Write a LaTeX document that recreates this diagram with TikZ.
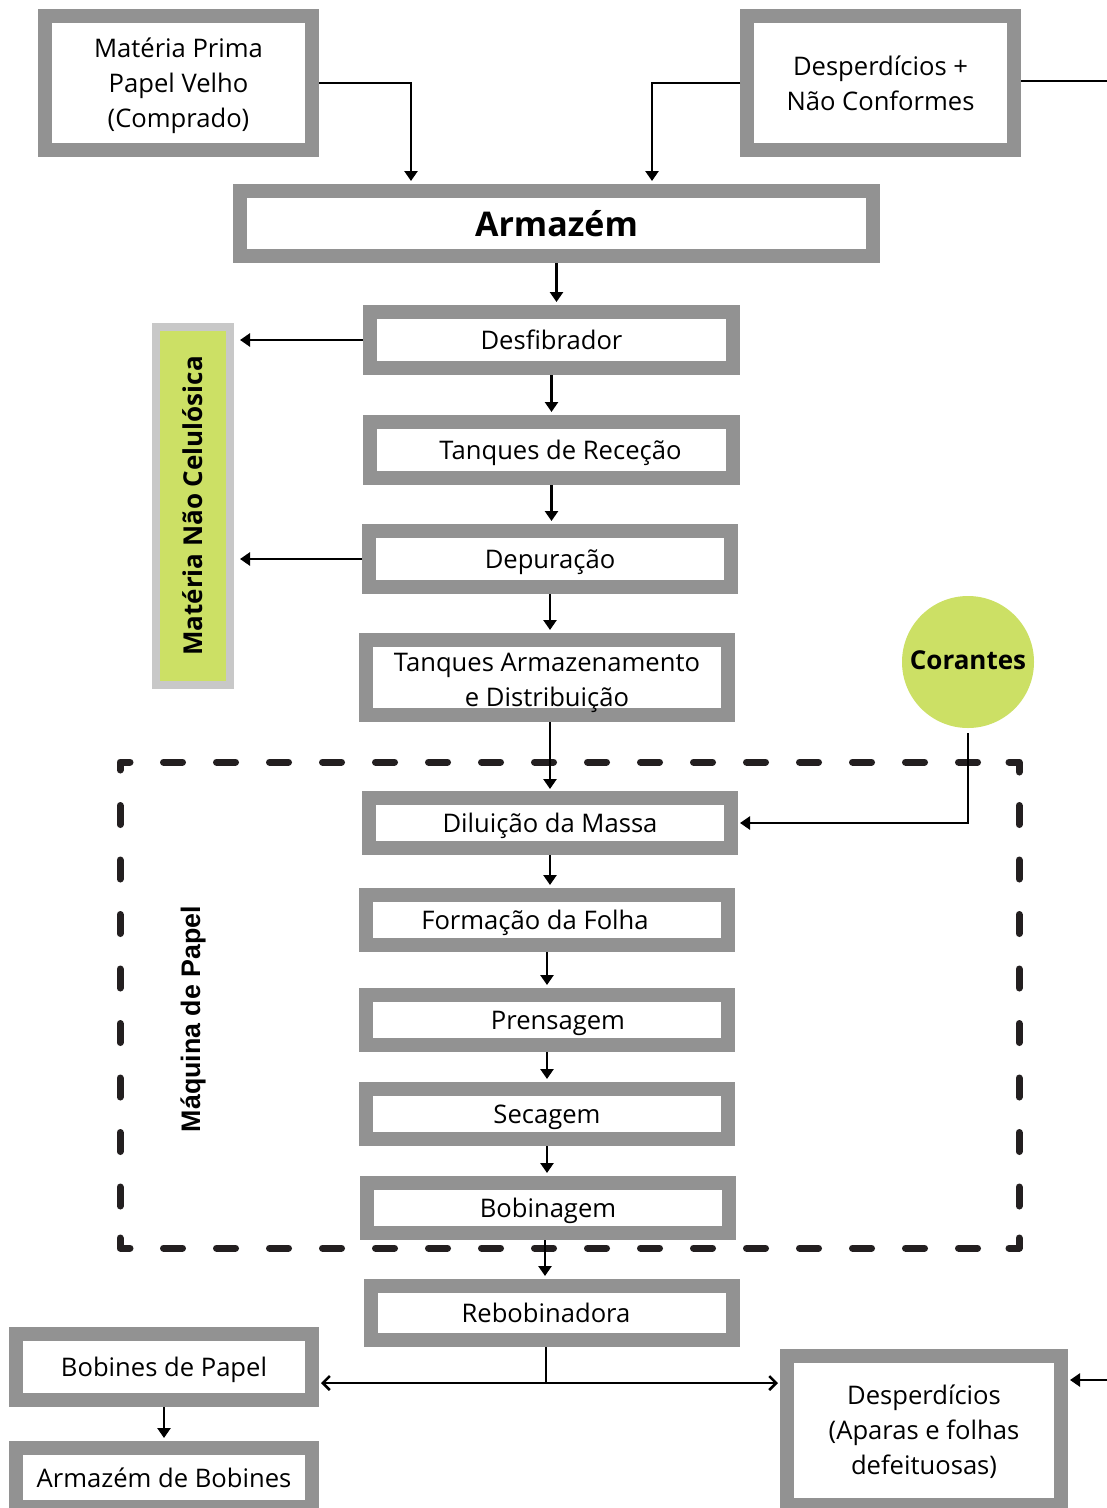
\documentclass[tikz,border=0pt]{standalone}
\usepackage{fontspec}
\usepackage{graphicx}
\setmainfont{Open Sans}
\newfontfamily\headsans{Liberation Sans}
\usetikzlibrary{arrows.meta,calc}

\definecolor{framegray}{RGB}{146,146,146}
\definecolor{softgray}{RGB}{200,200,200}
\definecolor{lime}{RGB}{204,224,101}
\definecolor{inkdark}{RGB}{35,31,32}

\begin{document}
\begin{tikzpicture}[x=1pt,y=-1pt,
  stagebox/.style={draw=framegray, line width=14pt, fill=white, rectangle,
    inner sep=0pt, align=center, font=\fontsize{25.6}{35}\selectfont},
  oneline/.style={text height=21.5pt, text depth=2pt},
  flow/.style={line width=2.5pt, -{Triangle[width=13pt,length=10pt]}, shorten >=3pt},
  splitflow/.style={line width=2.5pt, -{Straight Barb[width=14pt,length=7pt]}, shorten >=2pt},
  plain/.style={line width=2.5pt},
  framedash/.style={line width=7pt, draw=inkdark, line cap=round, line join=round}
]
\useasboundingbox (0,0) rectangle (1107,1508);
\fill[white] (0,0) rectangle (1107,1508);

% dashed frame of the paper machine
\foreach \i in {0,...,15} {
  \draw[framedash] ({163.5+\i*53},762) -- ++(19,0);
  \draw[framedash] ({163.5+\i*53},1248) -- ++(19,0);
}
\foreach \i in {0,...,7} {
  \draw[framedash] (120,{805.5+\i*54.5}) -- ++(0,19);
  \draw[framedash] (1019,{805.5+\i*54.5}) -- ++(0,19);
}
\draw[framedash] (120,770) -- (120,762) -- (130,762);
\draw[framedash] (1009,762) -- (1019,762) -- (1019,772);
\draw[framedash] (120,1238) -- (120,1248) -- (130,1248);
\draw[framedash] (1009,1248) -- (1019,1248) -- (1019,1238);

% inputs
\node[stagebox, minimum width=267pt, minimum height=134pt] (mp) at (178.5,83)
  {\rule{0pt}{25.5pt}Matéria Prima\\Papel Velho\\(Comprado)};
\node[stagebox, minimum width=267pt, minimum height=134pt] (dnc) at (880.5,83)
  {Desperdícios +\\Não Conformes};

% main line
\node[stagebox, minimum width=633pt, minimum height=65pt,
  font=\bfseries\fontsize{34}{40}\selectfont] (arm) at (556.5,223.5) {Armazém};
\node[stagebox, oneline, minimum width=363pt, minimum height=56pt] (desf) at (551.5,340) {Desfibrador};
\node[stagebox, oneline, minimum width=363pt, minimum height=56pt] (tr) at (551.5,450) {\hspace*{18pt}Tanques de Receção};
\node[stagebox, oneline, minimum width=362pt, minimum height=56pt] (dep) at (550,559) {Depuração};
\node[stagebox, minimum width=362pt, minimum height=75pt] (tad) at (547,677.5)
  {\rule{0pt}{29.5pt}Tanques Armazenamento\\e Distribuição};
\node[stagebox, oneline, minimum width=362pt, minimum height=50pt] (dil) at (550,823) {Diluição da Massa};
\node[stagebox, oneline, minimum width=362pt, minimum height=50pt] (ff) at (547,920) {Formação da Folha\hspace*{24pt}};
\node[stagebox, oneline, minimum width=362pt, minimum height=50pt] (pren) at (547,1020) {\hspace*{22pt}Prensagem};
\node[stagebox, oneline, minimum width=362pt, minimum height=50pt] (sec) at (547,1114) {Secagem};
\node[stagebox, oneline, minimum width=362pt, minimum height=50pt] (bob) at (548,1208) {Bobinagem};
\node[stagebox, oneline, minimum width=362pt, minimum height=54pt] (reb) at (552,1313) {\hspace*{-12pt}Rebobinadora};

% outputs
\node[stagebox, oneline, minimum width=296pt, minimum height=66pt] (bp) at (164,1367) {Bobines de Papel};
\node[stagebox, oneline, minimum width=296pt, minimum height=59pt] (ab) at (164,1477.5) {Armazém de Bobines};
\node[stagebox, minimum width=274pt, minimum height=149pt] (desp) at (924,1430.5)
  {\rule{0pt}{22pt}Desperdícios\\(Aparas e folhas\\defeituosas)};

% side elements
\node[draw=softgray, fill=lime, line width=8pt, minimum width=74pt, minimum height=358pt,
  inner sep=0pt, font=\bfseries\fontsize{26}{30}\selectfont] (mnc) at (193,506)
  {\rotatebox{90}{Matéria Não Celulósica}};
\node[circle, fill=lime, minimum size=132pt, inner sep=0pt,
  font=\bfseries\fontsize{26}{30}\selectfont] (cor) at (968,662) {\raisebox{4pt}{Corantes}};
\node[inner sep=0pt, font=\headsans\bfseries\fontsize{26.8}{30}\selectfont] (mq) at (193,1019)
  {\rotatebox{90}{Máquina de Papel}};

% connector end points
\coordinate (mpdrop) at (411,184);
\coordinate (dncdrop) at (652,184);
\coordinate (dncout) at (1107,81);
\coordinate (rebsplit) at (546,1383);
\coordinate (despin) at (1107,1380);

% connectors
\draw[flow] (mp.east) -| (mpdrop);
\draw[flow] (dnc.west) -| (dncdrop);
\draw[plain] (dnc.east |- dncout) -- (dncout);
\draw[flow] (arm.south) -- (arm.south |- desf.north);
\draw[flow, shorten >=6pt] (desf.west) -- (desf.west -| mnc.east);
\draw[flow] (desf.south) -- (desf.south |- tr.north);
\draw[flow] (tr.south) -- (tr.south |- dep.north);
\draw[flow, shorten >=6pt] (dep.west) -- (dep.west -| mnc.east);
\draw[flow] (dep.south) -- (dep.south |- tad.north);
\draw[flow, shorten >=2pt] ($(tad.south)+(3,0)$) -- ($(tad.south |- dil.north)+(3,0)$);
\draw[flow, shorten <=5pt, shorten >=2pt] (cor.south) |- (dil.east);
\draw[flow] (dil.south) -- (dil.south |- ff.north);
\draw[flow] (ff.south) -- (ff.south |- pren.north);
\draw[flow] (pren.south) -- (pren.south |- sec.north);
\draw[flow] (sec.south) -- (sec.south |- bob.north);
\draw[flow] ($(bob.south)+(-3,0)$) -- ($(bob.south |- reb.north)+(-3,0)$);
\draw[plain] (rebsplit |- reb.south) -- (rebsplit);
\draw[splitflow] (rebsplit) -- (rebsplit -| bp.east);
\draw[splitflow] (rebsplit) -- (rebsplit -| desp.west);
\draw[flow] (bp.south) -- (bp.south |- ab.north);
\draw[flow, shorten >=2pt] (despin) -- (despin -| desp.east);
\end{tikzpicture}
\end{document}
